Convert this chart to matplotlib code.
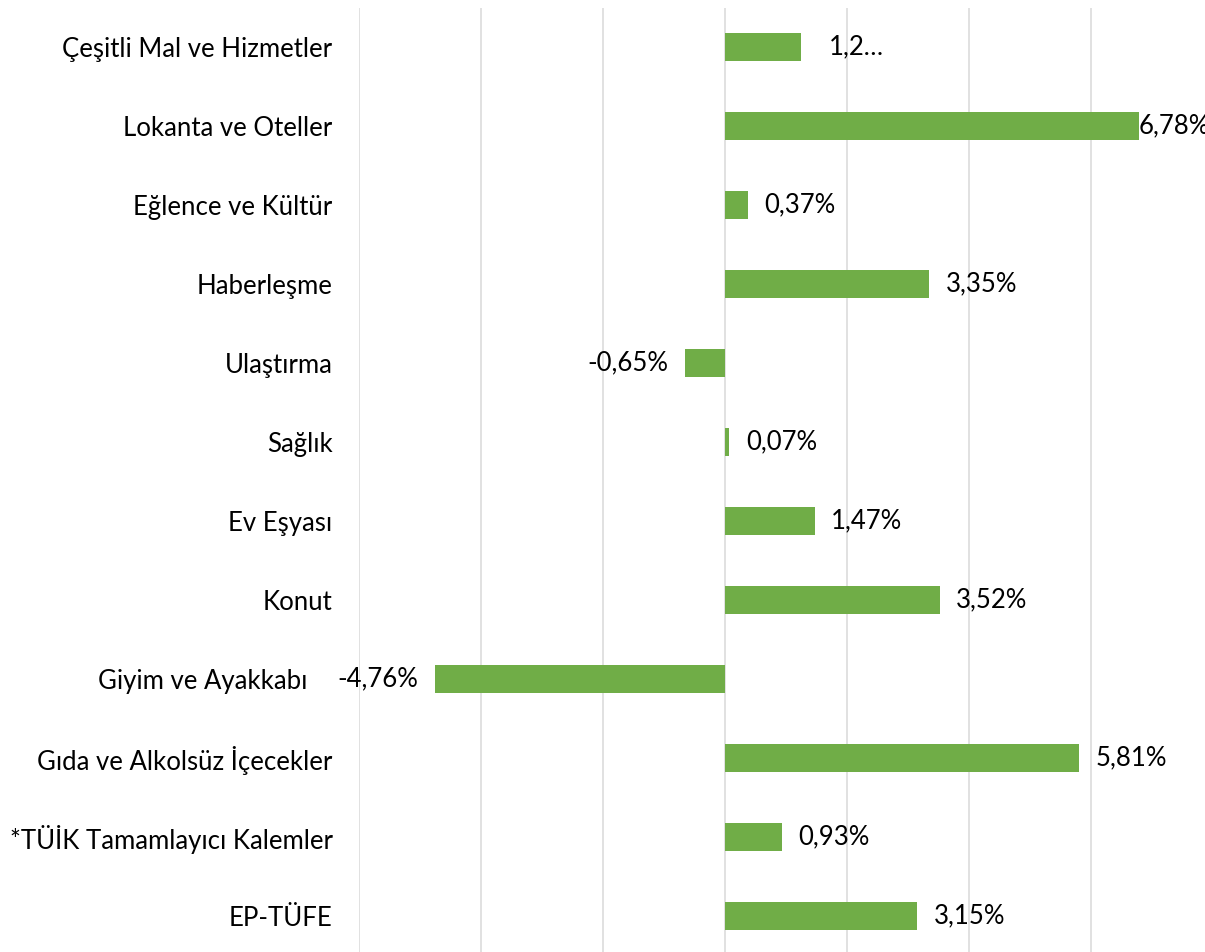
import numpy as np
import matplotlib.pyplot as plt
import matplotlib.transforms as mtransforms

categories = ['Çeşitli Mal ve Hizmetler', 'Lokanta ve Oteller', 'Eğlence ve Kültür',
              'Haberleşme', 'Ulaştırma', 'Sağlık', 'Ev Eşyası', 'Konut',
              'Giyim ve Ayakkabı', 'Gıda ve Alkolsüz İçecekler',
              '*TÜİK Tamamlayıcı Kalemler', 'EP-TÜFE']
values = [1.25, 6.78, 0.37, 3.35, -0.65, 0.07, 1.47, 3.52, -4.76, 5.81, 0.93, 3.15]
labels = ['1,2…', '6,78%', '0,37%', '3,35%', '-0,65%', '0,07%', '1,47%', '3,52%',
          '-4,76%', '5,81%', '0,93%', '3,15%']

plt.rcParams['font.family'] = ['Lato', 'DejaVu Sans']
fs = 18.5

fig = plt.figure(figsize=(12.05, 9.52), dpi=100)
ax = fig.add_axes([359/1205, 0, 1 - 359/1205, 1 - 8/952])

y = np.arange(len(categories))
ax.barh(y, values, height=0.36, color='#70AD47', zorder=3)

for i, (v, lab) in enumerate(zip(values, labels)):
    if v >= 0:
        # excel squeezes the long one against the bar end, the cut one sits further out
        off = 0 if v > 6.5 else (20 if lab.endswith('…') else 12)
        ax.annotate(lab, (v, i), xytext=(off, 0), textcoords='offset points',
                    ha='left', va='center', fontsize=fs, color='black')
    else:
        ax.annotate(lab, (v, i), xytext=(-12, 0), textcoords='offset points',
                    ha='right', va='center', fontsize=fs, color='black')

ax.set_xlim(-6, 7.87)
ax.set_ylim(len(categories) - 1 + 36/79, -39/79)
ax.set_xticks(np.arange(-6, 8, 2))
ax.set_xticklabels([])
ax.xaxis.grid(True, color='#D9D9D9', linewidth=1.1, zorder=0)
ax.set_yticks(y)
ax.set_yticklabels(categories, fontsize=fs)
ax.tick_params(axis='y', length=0, pad=19)
ax.tick_params(axis='x', length=0)
for s in ax.spines.values():
    s.set_visible(False)

# the label next to the negative bar label gets pushed left
for t in ax.get_yticklabels():
    if t.get_text() == 'Giyim ve Ayakkabı':
        t.set_transform(t.get_transform() + mtransforms.ScaledTranslation(-25/100, 0, fig.dpi_scale_trans))

fig.savefig('out.png', dpi=100)
